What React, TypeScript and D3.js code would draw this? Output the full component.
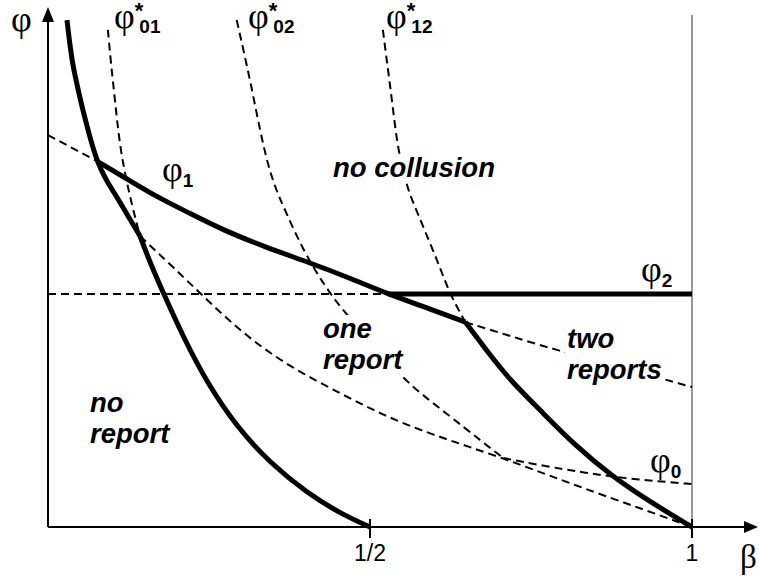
import React, { useEffect, useRef } from 'react'
import * as d3 from 'd3'

type Pt = [number, number]

// beta ticks on the horizontal axis
const betaTicks = [0.5, 1]
const betaTickLabels = ['1/2', '1']

// thick boundary of the "no report" region (kinked where phi*_01 meets it)
const noReportUpper: Pt[] = [
  [0.0295, 0.992], [0.034, 0.943], [0.039, 0.9], [0.047, 0.855], [0.054, 0.816],
  [0.065, 0.763], [0.076, 0.716], [0.09, 0.679], [0.107, 0.646], [0.124, 0.609],
  [0.143, 0.569],
]
const noReportLower: Pt[] = [
  [0.143, 0.569], [0.158, 0.519], [0.179, 0.458], [0.21, 0.372], [0.247, 0.282],
  [0.293, 0.196], [0.345, 0.125], [0.402, 0.067], [0.453, 0.027], [0.5, 0],
]

// phi_1 (solid part and its dashed continuations)
const phi1Solid: Pt[] = [
  [0.076, 0.716], [0.123, 0.681], [0.169, 0.646], [0.22, 0.614], [0.272, 0.581],
  [0.337, 0.548], [0.407, 0.517], [0.469, 0.487], [0.528, 0.456], [0.593, 0.427],
  [0.648, 0.401],
]
const phi1DashLeft: Pt[] = [[0, 0.767], [0.076, 0.716]]
const phi1DashRight: Pt[] = [
  [0.648, 0.401], [0.717, 0.374], [0.79, 0.346], [0.888, 0.313], [1, 0.274],
]

// phi_2 level, solid from where phi_1 crosses it
const phi2Level = 0.456
const phi2SolidFrom = 0.528

// thick boundary between one and two reports
const twoReportsEdge: Pt[] = [
  [0.648, 0.401], [0.683, 0.342], [0.717, 0.288], [0.764, 0.229], [0.818, 0.16],
  [0.877, 0.098], [0.935, 0.049], [1, 0],
]

// dashed thresholds
const phi01StarUpper: Pt[] = [
  [0.093, 0.973], [0.098, 0.904], [0.104, 0.836], [0.112, 0.738], [0.127, 0.646],
  [0.143, 0.569],
]
const phi01StarLower: Pt[] = [
  [0.143, 0.569], [0.194, 0.509], [0.247, 0.444], [0.309, 0.372], [0.376, 0.313],
  [0.453, 0.262], [0.52, 0.219], [0.593, 0.182], [0.707, 0.135], [0.826, 0.078],
  [0.919, 0.037], [1, 0],
]
const phi02Star: Pt[] = [
  [0.293, 0.992], [0.314, 0.875], [0.335, 0.738], [0.351, 0.669], [0.368, 0.62],
  [0.396, 0.542], [0.427, 0.477], [0.453, 0.431], [0.508, 0.352], [0.557, 0.282],
  [0.62, 0.221], [0.671, 0.17], [0.707, 0.135],
]
const phi0: Pt[] = [
  [0.707, 0.135], [0.772, 0.119], [0.826, 0.108], [0.877, 0.098], [0.943, 0.09], [1, 0.084],
]
const phi12Star: Pt[] = [
  [0.52, 0.973], [0.526, 0.914], [0.534, 0.836], [0.542, 0.751], [0.55, 0.705],
  [0.559, 0.659], [0.575, 0.611], [0.593, 0.556], [0.609, 0.507], [0.624, 0.456], [0.648, 0.401],
]

const SERIF = '"Liberation Serif", "DejaVu Serif", serif'
const SANS = '"Liberation Sans", Arial, sans-serif'

export default function App() {
  const svgRef = useRef<SVGSVGElement>(null)

  useEffect(() => {
    document.body.style.margin = '0'
    const svg = d3.select(svgRef.current)
    svg.selectAll('*').remove()

    const x = d3.scaleLinear().domain([0, 1]).range([48, 692])
    const y = d3.scaleLinear().domain([0, 1]).range([527, 16])

    const line = d3
      .line<Pt>()
      .x((d) => x(d[0]))
      .y((d) => y(d[1]))
      .curve(d3.curveBasis)

    // thin vertical line at beta = 1
    svg
      .append('line')
      .attr('x1', x(1))
      .attr('x2', x(1))
      .attr('y1', 15)
      .attr('y2', y(0))
      .attr('stroke', '#777')
      .attr('stroke-width', 1.5)

    const dashed = (data: Pt[]) =>
      svg
        .append('path')
        .attr('d', line(data))
        .attr('fill', 'none')
        .attr('stroke', '#000')
        .attr('stroke-width', 2)
        .attr('stroke-dasharray', '8,5')

    const thick = (data: Pt[]) =>
      svg
        .append('path')
        .attr('d', line(data))
        .attr('fill', 'none')
        .attr('stroke', '#000')
        .attr('stroke-width', 5)
        .attr('stroke-linejoin', 'round')

    dashed(phi1DashLeft)
    dashed(phi1DashRight)
    dashed(phi01StarUpper)
    dashed(phi01StarLower)
    dashed(phi02Star)
    dashed(phi0)
    dashed(phi12Star)
    dashed([[0, phi2Level], [phi2SolidFrom, phi2Level]])

    thick(noReportUpper)
    thick(noReportLower)
    thick(phi1Solid)
    thick(twoReportsEdge)
    thick([[phi2SolidFrom, phi2Level], [1, phi2Level]])

    // region labels sit on white boxes that hide the dashes behind them
    const regions = [
      { lines: ['no collusion'], x: 333, y: 177 },
      { lines: ['one', 'report'], x: 323, y: 338 },
      { lines: ['two', 'reports'], x: 567, y: 348 },
      { lines: ['no', 'report'], x: 90, y: 412 },
    ]
    const boxes = svg.append('g')
    const labels = svg.append('g')
    regions.forEach((r) => {
      const t = labels
        .append('text')
        .attr('font-family', SANS)
        .attr('font-weight', 'bold')
        .attr('font-style', 'italic')
        .attr('font-size', 27.5)
        .attr('fill', '#000')
      r.lines.forEach((s, i) => {
        t.append('tspan').attr('x', r.x).attr('y', r.y + i * 30.5).text(s)
      })
      const b = (t.node() as SVGTextElement).getBBox()
      boxes
        .append('rect')
        .attr('x', b.x - 2)
        .attr('y', b.y + 2)
        .attr('width', b.width + 4)
        .attr('height', b.height - 2)
        .attr('fill', '#fff')
    })

    // phi labels: serif phi, optional star above, bold sans subscript
    const phiLabels = [
      { sub: '01', x: 114, y: 28, star: true },
      { sub: '02', x: 248, y: 28, star: true },
      { sub: '12', x: 386, y: 28, star: true },
      { sub: '1', x: 162, y: 181, star: false },
      { sub: '2', x: 641, y: 281, star: false },
      { sub: '0', x: 650, y: 472, star: false },
    ]
    phiLabels.forEach((p) => {
      const t = svg.append('text').attr('x', p.x).attr('y', p.y).attr('fill', '#000')
      t.append('tspan').attr('font-family', SERIF).attr('font-size', 36).text('φ')
      if (p.star) {
        t.append('tspan')
          .attr('font-family', SANS)
          .attr('font-weight', 'bold')
          .attr('font-size', 22)
          .attr('dy', -10)
          .text('*')
      }
      t.append('tspan')
        .attr('font-family', SANS)
        .attr('font-weight', 'bold')
        .attr('font-size', 19)
        .attr('dx', p.star ? -4 : 0)
        .attr('dy', p.star ? 15 : 6)
        .text(p.sub)
    })

    // axes
    const axis = svg.append('g').attr('stroke', '#000').attr('stroke-width', 2)
    axis.append('line').attr('x1', x(0)).attr('x2', 748).attr('y1', y(0)).attr('y2', y(0))
    axis.append('line').attr('x1', x(0)).attr('x2', x(0)).attr('y1', y(0)).attr('y2', 16)
    svg
      .append('path')
      .attr('d', `M758,${y(0)} L744,${y(0) - 6} L744,${y(0) + 6} Z`)
      .attr('fill', '#000')
    svg
      .append('path')
      .attr('d', `M${x(0)},7 L${x(0) - 6},22 L${x(0) + 6},22 Z`)
      .attr('fill', '#000')

    betaTicks.forEach((b, i) => {
      axis.append('line').attr('x1', x(b)).attr('x2', x(b)).attr('y1', y(0) - 8).attr('y2', y(0) + 11)
      svg
        .append('text')
        .attr('x', x(b))
        .attr('y', 561)
        .attr('text-anchor', 'middle')
        .attr('font-family', SANS)
        .attr('font-size', 23)
        .text(betaTickLabels[i])
    })

    svg
      .append('text')
      .attr('x', 740)
      .attr('y', 568)
      .attr('font-family', SERIF)
      .attr('font-size', 33)
      .text('β')
    svg
      .append('text')
      .attr('x', 11)
      .attr('y', 31)
      .attr('font-family', SERIF)
      .attr('font-size', 36)
      .text('φ')
  }, [])

  return <svg ref={svgRef} width={759} height={580} style={{ display: 'block' }} />
}
